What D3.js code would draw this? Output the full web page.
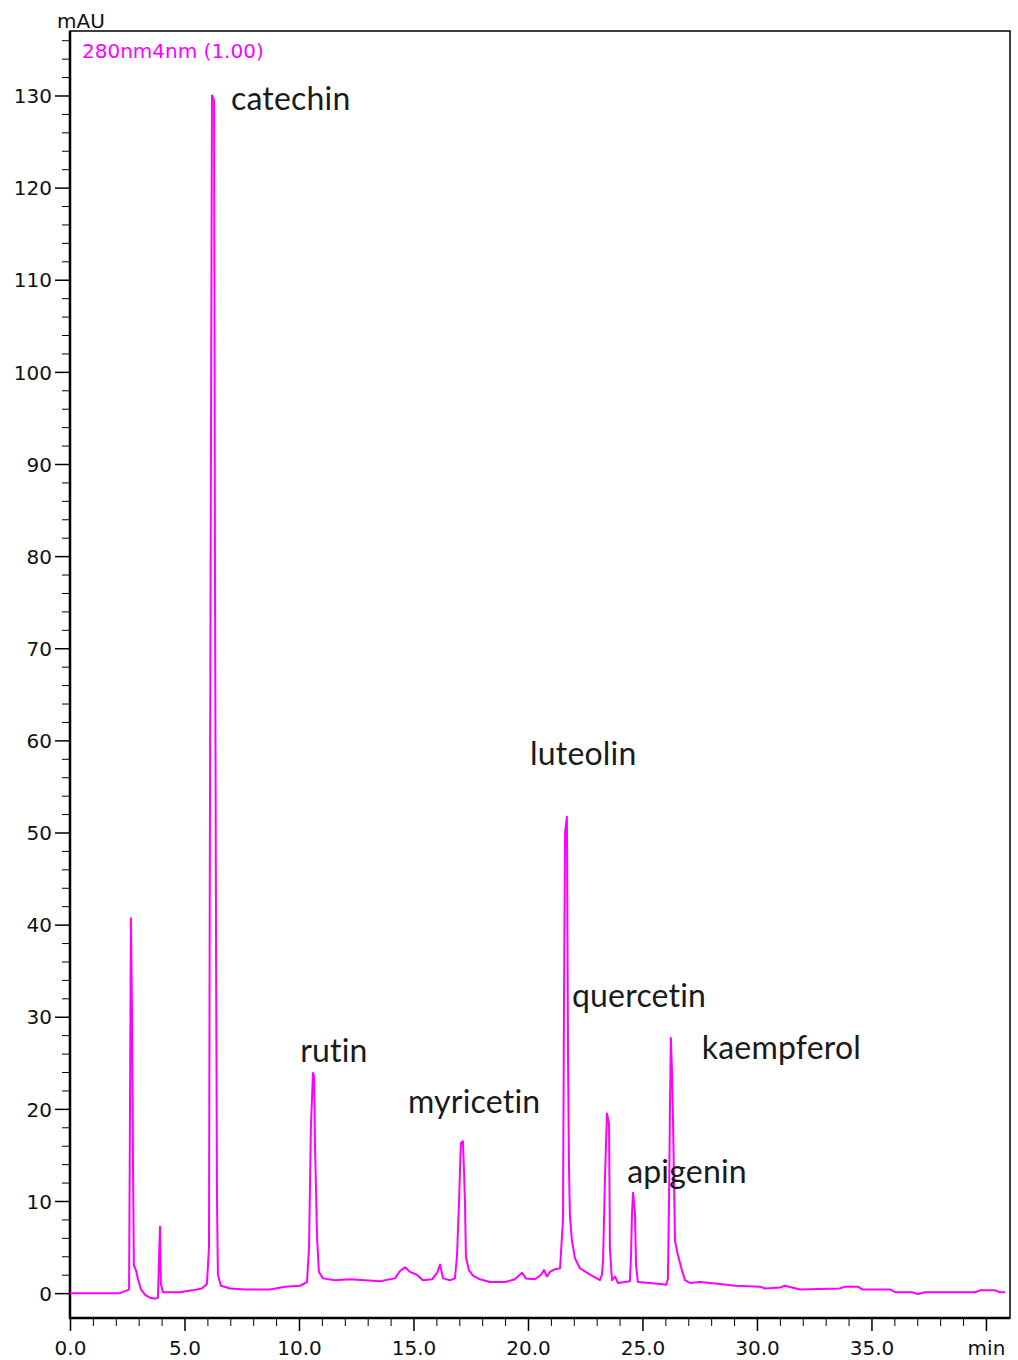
<!DOCTYPE html>
<html>
<head>
<meta charset="utf-8">
<script src="https://cdn.jsdelivr.net/npm/d3@7"></script>
<style>
  body { margin: 0; background: #fff; }
</style>
</head>
<body>
<div id="chart"></div>
<script>
// retention time (min) and absorbance (mAU)
var retTime = [0, 2.18, 2.49, 2.58, 2.62, 2.66, 2.71, 2.75, 2.79, 2.88, 2.97, 3.10, 3.28, 3.49, 3.71, 3.84, 3.89, 3.93, 3.97, 4.06,
    4.80, 5.33, 5.76, 5.98, 6.07, 6.11, 6.20, 6.29, 6.33, 6.38, 6.42, 6.46, 6.59, 6.99, 7.64, 8.73, 9.39, 10.04,
    10.35, 10.44, 10.52, 10.61, 10.66, 10.70, 10.79, 10.87, 11.05, 11.57, 12.23, 12.88, 13.54, 14.19, 14.41, 14.63,
    14.85, 15.15, 15.41, 15.81, 16.03, 16.16, 16.29, 16.59, 16.81, 16.90, 16.99, 17.07, 17.16, 17.21, 17.25, 17.29,
    17.42, 17.60, 17.90, 18.34, 19.00, 19.43, 19.74, 19.91, 20.31, 20.57, 20.70, 20.83, 20.96, 21.18, 21.40, 21.53,
    21.57, 21.62, 21.70, 21.75, 21.79, 21.83, 21.92, 22.05, 22.27, 22.71, 23.14, 23.23, 23.28, 23.36, 23.45, 23.54,
    23.58, 23.67, 23.80, 23.93, 24.24, 24.45, 24.50, 24.54, 24.59, 24.67, 24.72, 24.80, 25.33, 25.76, 26.03, 26.11,
    26.16, 26.20, 26.24, 26.29, 26.33, 26.42, 26.55, 26.72, 26.86, 27.07, 27.51, 28.38, 29.04, 30.13, 30.35, 31.00,
    31.22, 31.88, 33.62, 33.84, 34.41, 34.59, 35.81, 36.03, 36.77, 37.03, 37.34, 39.52, 39.74, 40.39, 40.61, 40.83];
var absorb = [0, 0, 0.3, 0.4, 20, 40.7, 30, 14.4, 3.0, 2.5, 1.5, 0.4, -0.2, -0.5, -0.6, -0.5, 4, 7.2, 1, 0.1,
    0.1, 0.3, 0.5, 1.0, 5, 51, 130, 129.5, 80, 36, 10, 2, 0.8, 0.5, 0.4, 0.4, 0.7, 0.8,
    1.2, 5, 18, 23.9, 23.5, 16, 6, 2.3, 1.6, 1.4, 1.5, 1.4, 1.3, 1.6, 2.4, 2.8,
    2.3, 2.0, 1.4, 1.5, 2.2, 3.1, 1.6, 1.4, 1.6, 4, 10, 16.3, 16.5, 13, 9.8, 3.9,
    2.5, 1.9, 1.5, 1.2, 1.2, 1.5, 2.2, 1.6, 1.5, 2.0, 2.5, 1.8, 2.3, 2.6, 2.7, 8,
    30, 50, 51.7, 25, 14, 8.5, 5.7, 3.8, 2.7, 2.0, 1.4, 2.0, 3.6, 12.3, 19.5, 18.4,
    4.7, 1.4, 1.8, 1.1, 1.2, 1.3, 4, 8.5, 10.9, 8.8, 3, 1.2, 1.1, 1.0, 0.9, 1.5,
    10, 20, 27.7, 24, 19.3, 5.7, 4.1, 2.5, 1.4, 1.1, 1.2, 1.0, 0.8, 0.7, 0.5, 0.6,
    0.8, 0.4, 0.5, 0.7, 0.7, 0.4, 0.4, 0.1, 0.1, -0.1, 0.1, 0.1, 0.3, 0.3, 0.1, 0.1];

// peak names and where their labels sit (min, mAU of the text baseline)
var peakNames = ["catechin", "rutin", "myricetin", "luteolin", "quercetin", "kaempferol", "apigenin"];
var labelTime = [7.03, 10.05, 14.76, 20.09, 21.92, 27.59, 24.33];
var labelMAU = [128.4, 25.1, 19.5, 57.3, 31.1, 25.4, 11.9];

var xMajor = [0, 5, 10, 15, 20, 25, 30, 35];
var yMajor = [0, 10, 20, 30, 40, 50, 60, 70, 80, 90, 100, 110, 120, 130];

var config = {
    left: 70, right: 1010, top: 31, bottom: 1318,
    lineColor: '#ff00ff',
    axisFont: 'DejaVu Sans',
    axisSize: 20,
    labelFont: 'Lato',
    labelSize: 32
};

var svg = d3.select('#chart').append('svg')
    .attr('width', 1018)
    .attr('height', 1360);

var x = d3.scaleLinear().domain([0, 41.05]).range([config.left, config.right]);
var y = d3.scaleLinear().domain([-2.7, 137]).range([config.bottom, config.top]);

// minor ticks every 1 min and every 2 mAU
var xMinor = d3.range(0, 41, 1).filter(function (d) { return d % 5 != 0; });
var yMinor = d3.range(0, 137, 2).filter(function (d) { return d % 10 != 0; });

svg.append('g')
    .attr('transform', 'translate(0,' + config.bottom + ')')
    .call(d3.axisBottom(x).tickValues(xMinor).tickSize(8).tickFormat(''))
    .call(function (g) { g.select('.domain').remove(); });

svg.append('g')
    .attr('transform', 'translate(' + config.left + ',0)')
    .call(d3.axisLeft(y).tickValues(yMinor).tickSize(8).tickFormat(''))
    .call(function (g) { g.select('.domain').remove(); });

var xAxis = svg.append('g')
    .attr('transform', 'translate(0,' + config.bottom + ')')
    .call(d3.axisBottom(x).tickValues(xMajor.concat([40])).tickSize(13).tickPadding(10)
        .tickFormat(function (d) { return d == 40 ? 'min' : d.toFixed(1); }));

var yAxis = svg.append('g')
    .attr('transform', 'translate(' + config.left + ',0)')
    .call(d3.axisLeft(y).tickValues(yMajor).tickSize(15).tickPadding(3));

[xAxis, yAxis].forEach(function (g) {
    g.selectAll('text')
        .attr('font-family', config.axisFont)
        .attr('font-size', config.axisSize)
        .attr('fill', '#111');
    g.selectAll('line').attr('stroke', '#000').attr('stroke-width', 1.5);
    g.select('.domain').remove();
});
yAxis.selectAll('text').attr('dy', '0.36em');
xAxis.selectAll('text').attr('dy', '0.71em');

// frame
svg.append('rect')
    .attr('x', config.left)
    .attr('y', config.top)
    .attr('width', config.right - config.left)
    .attr('height', config.bottom - config.top)
    .attr('fill', 'none')
    .attr('stroke', '#000')
    .attr('stroke-width', 1.5);
svg.append('path')
    .attr('d', 'M' + config.left + ',' + config.top + 'V' + config.bottom + 'H' + config.right)
    .attr('fill', 'none')
    .attr('stroke', '#000')
    .attr('stroke-width', 2.5);

svg.append('text')
    .attr('x', 57)
    .attr('y', 28)
    .attr('font-family', config.axisFont)
    .attr('font-size', config.axisSize)
    .attr('fill', '#111')
    .text('mAU');

svg.append('text')
    .attr('x', 82)
    .attr('y', 58)
    .attr('font-family', config.axisFont)
    .attr('font-size', config.axisSize)
    .attr('fill', config.lineColor)
    .text('280nm4nm (1.00)');

var trace = retTime.map(function (t, i) { return [t, absorb[i]]; });

svg.append('path')
    .datum(trace)
    .attr('d', d3.line()
        .x(function (d) { return x(d[0]); })
        .y(function (d) { return y(d[1]); }))
    .attr('fill', 'none')
    .attr('stroke', config.lineColor)
    .attr('stroke-width', 2)
    .attr('stroke-linejoin', 'round');

// letter-spacing keeps Lato from joining "ti" into a ligature
svg.selectAll('.peak-label')
    .data(peakNames)
    .enter().append('text')
    .attr('class', 'peak-label')
    .attr('x', function (d, i) { return x(labelTime[i]); })
    .attr('y', function (d, i) { return y(labelMAU[i]); })
    .attr('font-family', config.labelFont)
    .attr('font-size', config.labelSize)
    .attr('fill', '#1a1a1a')
    .style('font-variant-ligatures', 'none')
    .style('letter-spacing', '0.2px')
    .text(function (d) { return d; });
</script>
</body>
</html>
